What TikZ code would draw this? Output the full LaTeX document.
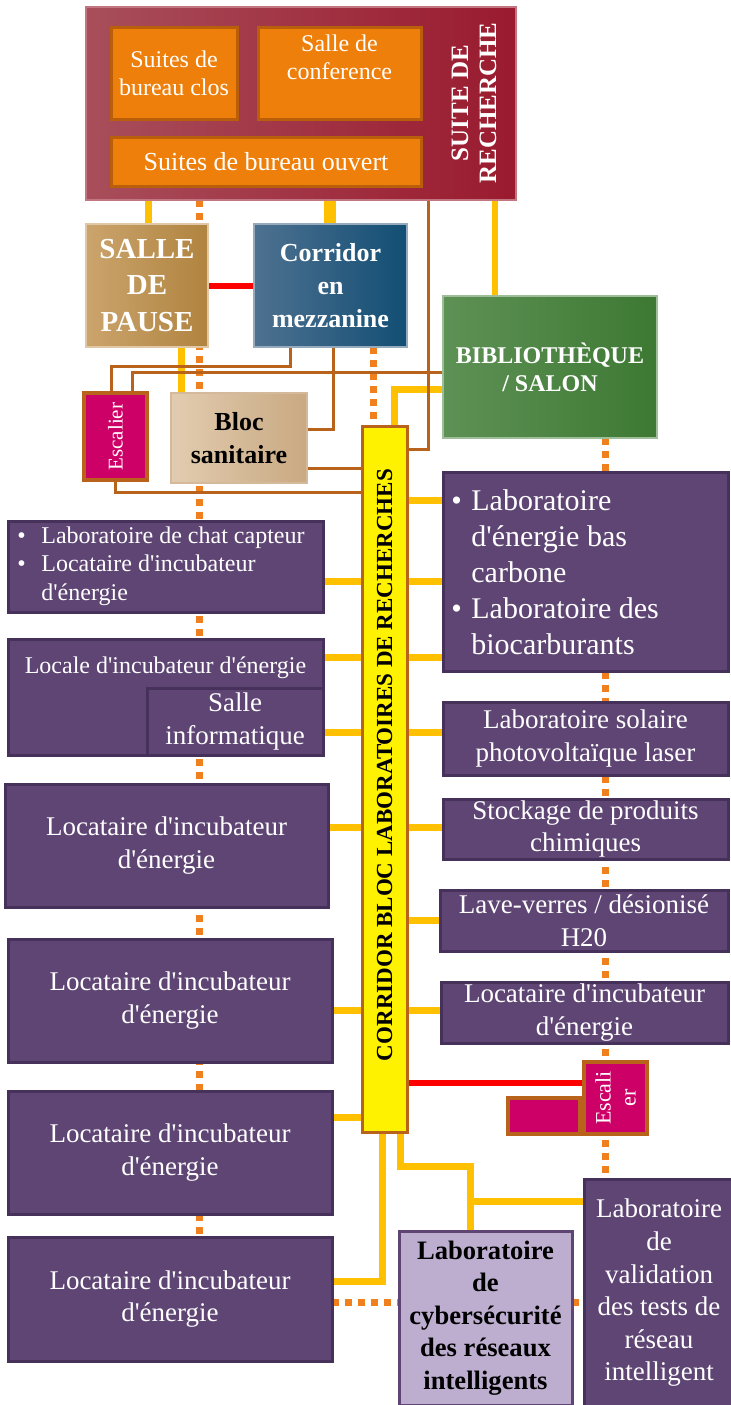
\documentclass[tikz,border=0pt]{standalone}
\usepackage{fontspec}
\setmainfont{Liberation Serif}[Ligatures=TeXOff]
\usetikzlibrary{positioning}
\pgfdeclarelayer{background}
\pgfsetlayers{background,main}

\definecolor{suitered}{HTML}{9A1A2E}
\definecolor{suitered1}{HTML}{A84E5B}
\definecolor{officeorange}{HTML}{EE7F0B}
\definecolor{officeedge}{HTML}{B95F0B}
\definecolor{pausetan1}{HTML}{CBA46D}
\definecolor{pausetan2}{HTML}{B0843F}
\definecolor{mezzblue1}{HTML}{4E7190}
\definecolor{mezzblue2}{HTML}{124E74}
\definecolor{libgreen1}{HTML}{5E9155}
\definecolor{libgreen2}{HTML}{3D7933}
\definecolor{sanibeige1}{HTML}{E2CCB0}
\definecolor{sanibeige2}{HTML}{C9A982}
\definecolor{labpurple}{HTML}{5E4574}
\definecolor{labedge}{HTML}{46315A}
\definecolor{cyberlilac}{HTML}{BDAED0}
\definecolor{stairmagenta}{HTML}{CC0066}
\definecolor{pipebrown}{HTML}{B8621B}
\definecolor{linkyellow}{HTML}{FFC000}
\definecolor{dotorange}{HTML}{F07F1E}

\tikzset{
  room/.style 2 args={anchor=north west, inner sep=0pt, outer sep=0pt,
    minimum width=#1*0.5pt, minimum height=#2*0.5pt, align=center, text=white},
  lab/.style={draw=labedge, fill=labpurple, line width=1.5pt},
  office/.style={draw=officeedge, fill=officeorange, line width=1.5pt},
  stair/.style={draw=pipebrown, fill=stairmagenta, line width=2pt},
  pipe/.style={draw=pipebrown, line width=1.5pt},
  link/.style={draw=linkyellow, line width=3.5pt},
  walk/.style={draw=dotorange, line width=3.5pt, dash pattern=on 3.25pt off 3.25pt},
  exit/.style={draw=red, line width=3pt},
  labtext/.style={font=\fontsize{13.5}{16.3}\selectfont},
}

\begin{document}
\begin{tikzpicture}[x=0.5pt,y=-0.5pt]
\useasboundingbox (0,0) rectangle (731,1405);

% suite de recherche
\node[room={430}{193}, draw=suitered!60!white, line width=0.6pt,
  left color=suitered1, right color=suitered] (suite) at (86,7) {};
\node[room={126}{92}, office, font=\fontsize{12}{14}\selectfont] (clos) at (111,27) {Suites de\\bureau clos};
\node[room={163}{92}, office] (conf) at (258,27) {};
\node[anchor=north, inner sep=0pt, align=center, text=white,
  font=\fontsize{12}{14}\selectfont] (conftxt) at (339.5,34) {Salle de\\conference};
\node[room={310}{49}, office, font=\fontsize{13}{15}\selectfont] (ouvert) at (111,137) {Suites de bureau ouvert};
\node[rotate=90, align=center, text=white, inner sep=0pt,
  font=\bfseries\fontsize{12.5}{14}\selectfont] (suitetxt) at (474,103) {SUITE DE\\RECHERCHE};

% mezzanine level
\node[room={122}{123}, draw=pausetan1!60!white, line width=0.6pt,
  left color=pausetan1, right color=pausetan2,
  font=\bfseries\fontsize{14.5}{18.3}\selectfont] (pause) at (86,224) {SALLE\\DE\\PAUSE};
\node[room={153}{123}, draw=mezzblue1!60!white, line width=0.6pt,
  left color=mezzblue1, right color=mezzblue2,
  font=\bfseries\fontsize{13}{16.3}\selectfont] (mezz) at (254,224) {Corridor\\en\\mezzanine};
\node[room={214}{142}, draw=libgreen1!60!white, line width=0.6pt,
  left color=libgreen1, right color=libgreen2,
  font=\bfseries\fontsize{12}{14}\selectfont] (lib) at (443,296) {BIBLIOTHÈQUE\\/ SALON};
\node[room={63}{87}, stair] (esc) at (84,393) {};
\node[rotate=90, text=white, inner sep=0pt, font=\fontsize{10.5}{12}\selectfont] (esctxt) at (esc.center) {Escalier};
\node[room={136}{90}, draw=sanibeige2!80!white, line width=0.6pt,
  left color=sanibeige1, right color=sanibeige2, text=black,
  font=\bfseries\fontsize{13}{16.5}\selectfont] (sani) at (171,393) {Bloc\\sanitaire};

% main corridor
\node[room={45}{706}, draw=pipebrown, fill=yellow, line width=1.5pt] (corr) at (362,426) {};
\node[rotate=90, inner sep=0pt, font=\bfseries\fontsize{11.5}{13}\selectfont] (corrtxt)
  at ([yshift=7pt]corr.center) {CORRIDOR BLOC LABORATOIRES DE RECHERCHES};

% labs, left side
\node[room={315}{91}, lab] (l1) at (8,521) {};
\node[anchor=west, align=left, inner sep=0pt, text=white, font=\fontsize{12}{14.3}\selectfont] (l1txt) at (17,566)
  {\makebox[12pt][l]{\textbullet}Laboratoire de chat capteur\\
   \makebox[12pt][l]{\textbullet}Locataire d'incubateur\\
   \hspace*{12pt}d'énergie};
\node[room={315}{116}, lab] (l2) at (8,639) {};
\node[text=white, inner sep=0pt, font=\fontsize{12}{14}\selectfont] (l2txt) at (165.5,668) {Locale d'incubateur d'énergie};
\node[room={176}{67}, lab, labtext] (info) at (147,688) {Salle\\informatique};
\node[room={323}{123}, lab, labtext] (l3) at (5,784) {Locataire d'incubateur\\d'énergie};
\node[room={324}{123}, lab, labtext] (l4) at (8,939) {Locataire d'incubateur\\d'énergie};
\node[room={324}{123}, lab, labtext] (l5) at (8,1091) {Locataire d'incubateur\\d'énergie};
\node[room={324}{124}, lab, labtext] (l6) at (8,1237) {Locataire d'incubateur\\d'énergie};

% labs, right side
\node[room={285}{199}, lab] (r1) at (443,472) {};
\node[anchor=west, align=left, inner sep=0pt, text=white, font=\fontsize{15}{18}\selectfont] (r1txt) at (451,572)
  {\makebox[10pt][l]{\textbullet}Laboratoire\\
   \hspace*{10pt}d'énergie bas\\
   \hspace*{10pt}carbone\\
   \makebox[10pt][l]{\textbullet}Laboratoire des\\
   \hspace*{10pt}biocarburants};
\node[room={285}{73}, lab, labtext] (r2) at (443,702) {Laboratoire solaire\\photovoltaïque laser};
\node[room={285}{60}, lab, labtext] (r3) at (443,799) {Stockage de produits\\chimiques};
\node[room={288}{61}, lab, labtext] (r4) at (440,890) {Lave-verres / désionisé\\H20};
\node[room={287}{61}, lab, labtext] (r5) at (441,982) {Locataire d'incubateur\\d'énergie};
\node[room={63}{72}, stair] (esctwo) at (584,1062) {};
\node[rotate=90, align=center, text=white, inner sep=0pt, font=\fontsize{11}{12.5}\selectfont] (esctwotxt)
  at (esctwo.center) {Escali\\er};
\node[room={72}{36}, stair] (pad) at (508,1098) {};
\node[room={150}{228}, lab, labtext] (valid) at (584,1179) {Laboratoire\\de\\validation\\des tests de\\réseau\\intelligent};
\node[room={173}{174}, draw=labpurple, fill=cyberlilac, line width=1.5pt, text=black,
  font=\bfseries\fontsize{13.3}{16.3}\selectfont] (cyber) at (399,1231)
  {Laboratoire\\de\\cybersécurité\\des réseaux\\intelligents};

\begin{pgfonlayer}{background}
% walkways
\draw[walk] (suite.south -| 199,0) -- (l6.north -| 199,0);
\draw[walk] (mezz.south -| 373,0) -- (corr.north -| 373,0);
\draw[walk] (lib.south -| 605,0) -- (valid.north -| 605,0);
\draw[walk] (l6.east |- 0,1302) -- (cyber.west |- 0,1302);
\draw[walk] (cyber.east |- 0,1302) -- (valid.west |- 0,1302);

% yellow links
\draw[link] (suite.south -| 148,0) -- (pause.north -| 148,0);
\draw[link, line width=6pt] (suite.south -| 330,0) -- (mezz.north -| 330,0);
\draw[link, line width=3pt] (suite.south -| 495,0) -- (lib.north -| 495,0);
\draw[link] (pause.south -| 181,0) -- (sani.north -| 181,0);
\draw[link] (lib.west |- 0,389) -| (corr.north -| 394,0);
\draw[link] (corr.east |- 0,500) -- (r1.west |- 0,500);
\draw[link] (l1.east |- 0,581) -- (r1.west |- 0,581);
\draw[link] (l2.east |- 0,657) -- (r1.west |- 0,657);
\draw[link] (info.east |- 0,732) -- (r2.west |- 0,732);
\draw[link] (l3.east |- 0,827) -- (r3.west |- 0,827);
\draw[link] (corr.east |- 0,920) -- (r4.west |- 0,920);
\draw[link] (l4.east |- 0,1010) -- (r5.west |- 0,1010);
\draw[link] (l5.east |- 0,1117) -- (corr.west |- 0,1117);
\draw[link] (corr.south -| 382,0) |- (l6.east |- 0,1281);
\coordinate (tee) at (470,1201);
\draw[link] (corr.south -| 400,0) |- (470,1166) -- (cyber.north -| tee);
\draw[link] (tee) -- (valid.west |- tee);

% service runs
\draw[pipe] (mezz.south -| 290,0) |- (111,366) -- (esc.north -| 111,0);
\draw[pipe] (esc.north -| 132,0) |- (lib.west |- 0,372);
\draw[pipe] (mezz.south -| 333,0) |- (sani.east |- 0,429);
\draw[pipe] (sani.east |- 0,468) -- (corr.west |- 0,468);
\draw[pipe] (esc.south -| 115,0) |- (corr.west |- 0,492);
\draw[pipe] (suite.south -| 428,0) |- (corr.east |- 0,449);

% red links
\draw[exit] (pause.east |- 0,286) -- (mezz.west |- 0,286);
\draw[exit] (corr.east |- 0,1083) -- (esctwo.west |- 0,1083);
\end{pgfonlayer}
\end{tikzpicture}
\end{document}
